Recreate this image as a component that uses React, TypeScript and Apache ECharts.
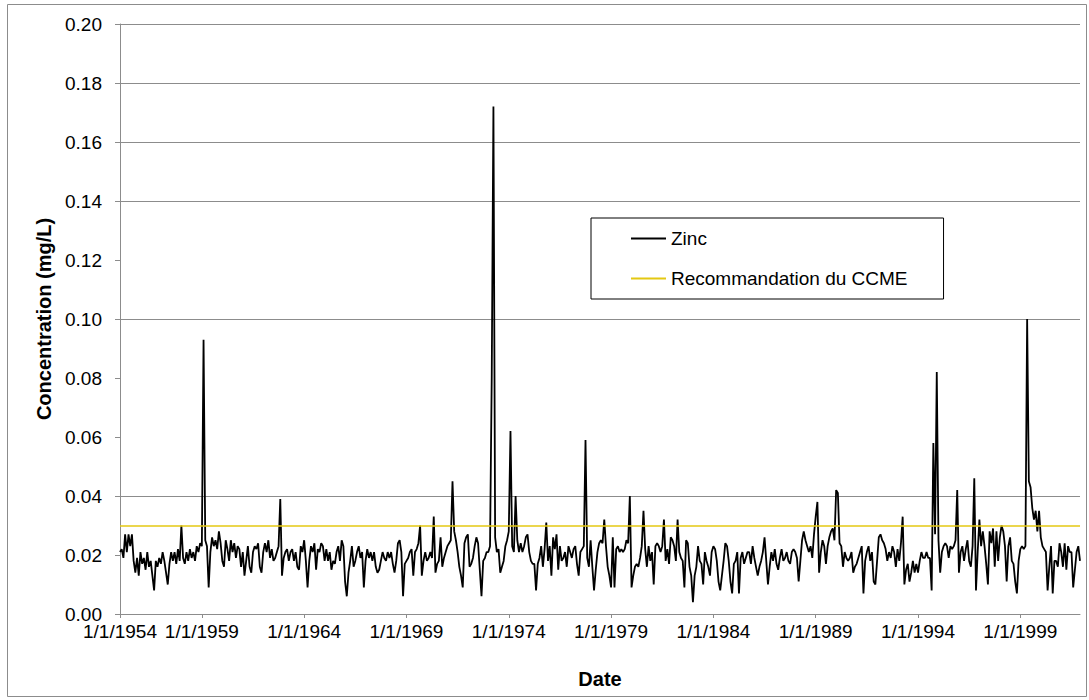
import React, { useEffect, useRef } from "react";
import * as echarts from "echarts";

// Monthly zinc concentrations (mg/L), one row per year, starting January 1955
const startYear = 1955;
const zincValues: number[] = [
  0.021, 0.022, 0.019, 0.027, 0.021, 0.027, 0.023, 0.027, 0.018, 0.014, 0.019, 0.013,
  0.021, 0.017, 0.019, 0.015, 0.021, 0.016, 0.018, 0.013, 0.008, 0.018, 0.016, 0.019,
  0.017, 0.021, 0.018, 0.014, 0.010, 0.017, 0.021, 0.018, 0.021, 0.017, 0.022, 0.018,
  0.030, 0.019, 0.017, 0.021, 0.018, 0.022, 0.019, 0.021, 0.018, 0.023, 0.021, 0.024,
  0.023, 0.093, 0.025, 0.023, 0.009, 0.021, 0.026, 0.023, 0.025, 0.022, 0.028, 0.024,
  0.018, 0.016, 0.025, 0.022, 0.018, 0.025, 0.021, 0.024, 0.019, 0.023, 0.022, 0.016,
  0.021, 0.013, 0.018, 0.023, 0.016, 0.014, 0.021, 0.023, 0.022, 0.024, 0.016, 0.014,
  0.021, 0.024, 0.021, 0.025, 0.019, 0.022, 0.018, 0.019, 0.021, 0.023, 0.039, 0.013,
  0.019, 0.021, 0.022, 0.018, 0.021, 0.022, 0.018, 0.021, 0.016, 0.015, 0.023, 0.021,
  0.025, 0.018, 0.009, 0.018, 0.023, 0.021, 0.024, 0.015, 0.022, 0.021, 0.024, 0.023,
  0.018, 0.022, 0.018, 0.021, 0.015, 0.018, 0.017, 0.021, 0.023, 0.018, 0.025, 0.023,
  0.011, 0.006, 0.014, 0.018, 0.023, 0.016, 0.018, 0.021, 0.023, 0.019, 0.021, 0.009,
  0.018, 0.022, 0.019, 0.021, 0.018, 0.021, 0.016, 0.014, 0.015, 0.018, 0.021, 0.019,
  0.018, 0.021, 0.019, 0.021, 0.017, 0.014, 0.018, 0.024, 0.025, 0.021, 0.006, 0.017,
  0.018, 0.019, 0.021, 0.022, 0.013, 0.021, 0.022, 0.024, 0.030, 0.013, 0.018, 0.021,
  0.018, 0.019, 0.021, 0.019, 0.033, 0.014, 0.017, 0.018, 0.026, 0.016, 0.019, 0.021,
  0.023, 0.024, 0.025, 0.045, 0.028, 0.025, 0.021, 0.016, 0.013, 0.009, 0.024, 0.026,
  0.027, 0.016, 0.017, 0.019, 0.023, 0.026, 0.024, 0.015, 0.006, 0.018, 0.019, 0.021,
  0.021, 0.023, 0.080, 0.172, 0.026, 0.021, 0.022, 0.014, 0.016, 0.018, 0.023, 0.025,
  0.028, 0.062, 0.023, 0.021, 0.040, 0.025, 0.021, 0.024, 0.021, 0.023, 0.026, 0.027,
  0.021, 0.018, 0.017, 0.017, 0.008, 0.017, 0.019, 0.023, 0.016, 0.022, 0.031, 0.018,
  0.023, 0.013, 0.026, 0.022, 0.027, 0.015, 0.023, 0.018, 0.019, 0.021, 0.016, 0.023,
  0.021, 0.019, 0.022, 0.023, 0.017, 0.013, 0.021, 0.022, 0.023, 0.059, 0.019, 0.016,
  0.025, 0.016, 0.008, 0.015, 0.021, 0.024, 0.025, 0.024, 0.032, 0.023, 0.016, 0.013,
  0.009, 0.026, 0.009, 0.022, 0.023, 0.021, 0.022, 0.021, 0.022, 0.025, 0.024, 0.040,
  0.009, 0.013, 0.016, 0.017, 0.016, 0.019, 0.023, 0.035, 0.022, 0.016, 0.023, 0.018,
  0.021, 0.010, 0.023, 0.024, 0.023, 0.021, 0.023, 0.032, 0.018, 0.022, 0.017, 0.026,
  0.025, 0.023, 0.018, 0.032, 0.021, 0.019, 0.018, 0.009, 0.025, 0.024, 0.016, 0.013,
  0.004, 0.013, 0.016, 0.023, 0.018, 0.017, 0.010, 0.021, 0.018, 0.016, 0.013, 0.021,
  0.023, 0.022, 0.018, 0.011, 0.008, 0.013, 0.018, 0.024, 0.023, 0.018, 0.011, 0.007,
  0.017, 0.018, 0.021, 0.007, 0.019, 0.021, 0.017, 0.019, 0.021, 0.021, 0.017, 0.023,
  0.019, 0.016, 0.013, 0.016, 0.018, 0.021, 0.026, 0.018, 0.010, 0.016, 0.021, 0.018,
  0.022, 0.017, 0.015, 0.019, 0.022, 0.018, 0.019, 0.021, 0.018, 0.017, 0.021, 0.022,
  0.021, 0.019, 0.011, 0.018, 0.025, 0.028, 0.025, 0.023, 0.021, 0.023, 0.019, 0.027,
  0.033, 0.038, 0.014, 0.021, 0.025, 0.023, 0.017, 0.023, 0.026, 0.028, 0.029, 0.025,
  0.042, 0.041, 0.024, 0.023, 0.016, 0.021, 0.019, 0.018, 0.019, 0.021, 0.014, 0.016,
  0.017, 0.019, 0.021, 0.023, 0.007, 0.018, 0.021, 0.023, 0.018, 0.021, 0.011, 0.010,
  0.018, 0.026, 0.027, 0.025, 0.024, 0.022, 0.018, 0.021, 0.019, 0.023, 0.021, 0.016,
  0.022, 0.018, 0.024, 0.033, 0.010, 0.015, 0.017, 0.011, 0.014, 0.018, 0.014, 0.017,
  0.014, 0.018, 0.021, 0.019, 0.019, 0.021, 0.019, 0.019, 0.008, 0.058, 0.027, 0.082,
  0.025, 0.014, 0.021, 0.023, 0.024, 0.023, 0.019, 0.023, 0.022, 0.023, 0.025, 0.042,
  0.014, 0.021, 0.023, 0.018, 0.022, 0.025, 0.018, 0.016, 0.023, 0.046, 0.008, 0.021,
  0.032, 0.023, 0.028, 0.023, 0.017, 0.010, 0.028, 0.024, 0.029, 0.016, 0.028, 0.018,
  0.026, 0.030, 0.028, 0.023, 0.011, 0.023, 0.026, 0.018, 0.017, 0.011, 0.007, 0.018,
  0.022, 0.023, 0.022, 0.023, 0.100, 0.045, 0.043, 0.036, 0.032, 0.035, 0.028, 0.035,
  0.026, 0.023, 0.022, 0.021, 0.008, 0.016, 0.023, 0.007, 0.018, 0.018, 0.016, 0.024,
  0.021, 0.016, 0.024, 0.015, 0.023, 0.021, 0.021, 0.009, 0.015, 0.021, 0.023, 0.018,
];

const ccmeGuideline = 0.03;

// Date axis tick labels and the category index they sit on
const xTickText = [
  "1/1/1954", "1/1/1959", "1/1/1964", "1/1/1969", "1/1/1974",
  "1/1/1979", "1/1/1984", "1/1/1989", "1/1/1994", "1/1/1999",
];
const xTickIndex = [0, 48, 108, 168, 228, 288, 348, 408, 468, 528];

// Y levels that carry a visible gridline
const yGridValues = [0, 0.04, 0.1, 0.14, 0.16, 0.18, 0.2];

const months: string[] = [];
for (let i = 0; i < zincValues.length; i++) {
  const y = startYear + Math.floor(i / 12);
  const m = (i % 12) + 1;
  months.push(`${m}/1/${y}`);
}

export default function App() {
  const ref = useRef<HTMLDivElement>(null);

  useEffect(() => {
    if (!ref.current) return;
    const chart = echarts.init(ref.current, null, { renderer: "svg" });
    const font = "'Liberation Sans', Arial, sans-serif";
    const gray = "#8c8c8c";
    const ccmeColor = "#e4c812";

    const levels: number[] = [];
    for (let i = 0; i <= 10; i++) levels.push(i * 0.02);
    const gridColors = levels.map((v) =>
      yGridValues.some((t) => Math.abs(t - v) < 1e-9) ? gray : "rgba(0,0,0,0)"
    );

    chart.setOption({
      animation: false,
      backgroundColor: "#ffffff",
      textStyle: { fontFamily: font },
      grid: { left: 120, right: 9, top: 24, bottom: 86, containLabel: false },
      xAxis: {
        type: "category",
        data: months,
        boundaryGap: false,
        name: "Date",
        nameLocation: "middle",
        nameGap: 55,
        nameTextStyle: { fontSize: 20, fontWeight: "bold", color: "#000", fontFamily: font },
        axisLine: { lineStyle: { color: gray, width: 1 } },
        axisTick: {
          show: true,
          interval: (i: number) => xTickIndex.includes(i),
          length: 4,
          lineStyle: { color: gray },
        },
        axisLabel: {
          interval: (i: number) => xTickIndex.includes(i),
          formatter: (_v: string, i: number) => {
            const k = xTickIndex.indexOf(i);
            return k >= 0 ? xTickText[k] : "";
          },
          fontSize: 19,
          color: "#000",
          margin: 8,
          fontFamily: font,
        },
        splitLine: { show: false },
      },
      yAxis: {
        type: "value",
        min: 0,
        max: 0.2,
        interval: 0.02,
        name: "Concentration (mg/L)",
        nameLocation: "middle",
        nameGap: 62,
        nameTextStyle: { fontSize: 20, fontWeight: "bold", color: "#000", fontFamily: font },
        axisLine: { show: true, lineStyle: { color: gray, width: 1 } },
        axisTick: { show: true, length: 5, lineStyle: { color: gray } },
        axisLabel: {
          formatter: (v: number) => v.toFixed(2),
          fontSize: 19,
          color: "#000",
          margin: 18,
          fontFamily: font,
        },
        splitLine: { show: true, lineStyle: { color: gridColors, width: 1 } },
      },
      legend: {
        orient: "vertical",
        left: 591,
        top: 218,
        data: ["Zinc", "Recommandation du CCME"],
        itemWidth: 35,
        itemHeight: 14,
        itemGap: 21,
        padding: [11, 36, 11, 39],
        backgroundColor: "#fff",
        borderColor: "#000",
        borderWidth: 1,
        borderRadius: 0,
        itemStyle: {
          color: "rgba(0,0,0,0)",
          borderColor: "rgba(0,0,0,0)",
          borderWidth: 0,
          opacity: 0,
        },
        textStyle: { fontSize: 19, color: "#000", fontFamily: font },
      },
      graphic: [
        {
          type: "rect",
          shape: { x: 7.5, y: 4.5, width: 1079, height: 692 },
          style: { fill: "none", stroke: gray, lineWidth: 1 },
          silent: true,
        },
      ],
      series: [
        {
          name: "Zinc",
          type: "line",
          data: zincValues,
          symbol: "none",
          lineStyle: { color: "#000", width: 1.8 },
          itemStyle: { color: "#000" },
          z: 3,
        },
        {
          name: "Recommandation du CCME",
          type: "line",
          data: [],
          symbol: "none",
          lineStyle: { color: ccmeColor, width: 1.6 },
          itemStyle: { color: ccmeColor },
          z: 2,
          markLine: {
            silent: true,
            symbol: ["none", "none"],
            label: { show: false },
            lineStyle: { color: ccmeColor, width: 1.6, type: "solid" },
            data: [{ yAxis: ccmeGuideline }],
          },
        },
      ],
    });

    return () => chart.dispose();
  }, []);

  return (
    <div
      ref={ref}
      style={{ position: "absolute", left: 0, top: 0, width: 1089, height: 700 }}
    />
  );
}
